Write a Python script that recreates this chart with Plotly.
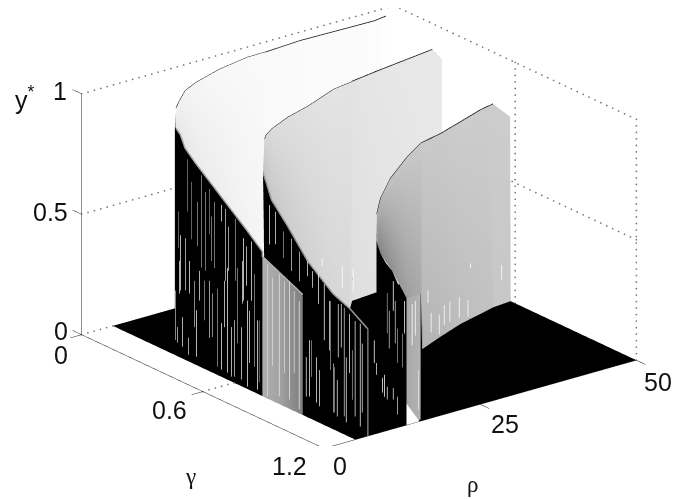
import numpy as np
import plotly.graph_objects as go

# axis ticks
gamma_ticks = [0, 0.6, 1.2]
rho_ticks = [0, 25, 50]
y_ticks = [0, 0.5, 1]

# floor of the surface, everything here is y* = 0
floor_rho = [5, 50]
floor_gamma = [0, 1.2]

# first sheet: jump wall (gamma, rho, y*)
wall1_gamma = [0, 0.1, 0.22, 0.235, 0.28, 0.35, 0.5, 0.65, 0.74]
wall1_rho = [15, 11.7, 8, 8.2, 7.5, 6.9, 5.8, 5.3, 5]
wall1_top = [0.81, 0.815, 0.885, 0.863, 0.83, 0.80, 0.74, 0.655, 0.6]
# cut of the first sheet at rho = 5
cut_gamma = [0.74, 0.79, 0.84, 0.89, 0.94]
cut_rho = [5, 5, 5, 5, 5]
cut_top = [0.58, 0.56, 0.54, 0.52, 0.5]
cut_shade = [0.68, 0.66, 0.62, 0.55, 0.5]
# first sheet, upper edge and lower edge
sheet1_rho_up = [15.1, 15.7, 16.6, 18.3, 22, 26.5, 29.1, 29.6, 35, 46.8, 48.7]
sheet1_gamma_up = [0, 0, 0, 0, 0, 0, 0, 0, 0, 0, 0]
sheet1_y_up = [0.83, 0.858, 0.892, 0.913, 0.94, 0.957, 0.958, 0.958, 0.965, 0.96, 0.966]
sheet1_rho_lo = [8, 8.2, 7.5, 6.9, 5.8, 5.3, 5, 28, 33.4, 45, 47.7]
sheet1_gamma_lo = [0.22, 0.235, 0.28, 0.35, 0.5, 0.65, 0.74, 0.05, 0.05, 0.03, 0.03]
sheet1_y_lo = [0.885, 0.863, 0.83, 0.80, 0.74, 0.655, 0.6, 0, 0, 0, 0]
sheet1_shade_up = [0.95, 0.95, 0.955, 0.96, 0.97, 0.975, 0.975, 0.975, 0.98, 0.985, 0.995]
sheet1_shade_lo = [0.9, 0.9, 0.91, 0.92, 0.93, 0.95, 0.96, 0.975, 0.98, 0.985, 0.995]

# second sheet
wall2_gamma = [0.19, 0.30, 0.42, 0.48, 0.55, 0.70, 0.85, 1.0, 1.1, 1.2]
wall2_rho = [22.8, 19.2, 15.4, 14, 12.6, 10.3, 8.7, 7.9, 7.4, 7]
wall2_top = [0.696, 0.704, 0.729, 0.721, 0.684, 0.653, 0.576, 0.506, 0.486, 0.445]
sheet2_rho_up = [22.8, 23.4, 24.3, 26.9, 30.1, 34.2, 37, 37.2, 41.1, 50, 50]
sheet2_gamma_up = [0.19, 0.19, 0.19, 0.19, 0.19, 0.19, 0.19, 0.19, 0.19, 0.19, 0.237]
sheet2_y_up = [0.696, 0.733, 0.751, 0.781, 0.803, 0.843, 0.852, 0.855, 0.868, 0.893, 0.871]
sheet2_rho_lo = [15.4, 14, 12.6, 10.3, 8.7, 7.9, 7.4, 34.2, 38.5, 48.3, 50]
sheet2_gamma_lo = [0.42, 0.48, 0.55, 0.70, 0.85, 1.0, 1.1, 0.281, 0.27, 0.242, 0.237]
sheet2_y_lo = [0.729, 0.721, 0.684, 0.653, 0.576, 0.506, 0.486, 0, 0, 0, 0]
sheet2_shade_up = [0.82, 0.84, 0.86, 0.87, 0.88, 0.89, 0.89, 0.89, 0.9, 0.91, 0.91]
sheet2_shade_lo = [0.76, 0.77, 0.78, 0.8, 0.82, 0.84, 0.84, 0.87, 0.88, 0.9, 0.91]

# third sheet
wall3_gamma = [0.49, 0.6, 0.7, 0.8, 0.9, 1.0, 1.1, 1.2]
wall3_rho = [31.4, 27.8, 24.7, 22, 19.6, 17.4, 15.2, 13.2]
wall3_top = [0.44, 0.43, 0.471, 0.489, 0.508, 0.53, 0.523, 0.528]
sheet3_rho_up = [31.4, 32, 33.6, 36.3, 38.55, 38.7, 41.6, 44.8, 48, 50, 50]
sheet3_gamma_up = [0.49, 0.49, 0.49, 0.49, 0.49, 0.49, 0.49, 0.49, 0.49, 0.49, 0.575]
sheet3_y_up = [0.464, 0.525, 0.596, 0.666, 0.708, 0.708, 0.723, 0.749, 0.775, 0.785, 0.764]
sheet3_rho_lo = [24.7, 22, 17.4, 13.2, 15.5, 30.9, 35.3, 40, 47, 47, 50]
sheet3_gamma_lo = [0.7, 0.8, 1.0, 1.2, 1.2, 0.73, 0.683, 0.636, 0.586, 0.586, 0.578]
sheet3_y_lo = [0.471, 0.489, 0.53, 0.528, 0.53, 0, 0, 0, 0, 0, 0]
sheet3_shade_up = [0.68, 0.72, 0.76, 0.78, 0.79, 0.79, 0.79, 0.8, 0.8, 0.8, 0.8]
sheet3_shade_lo = [0.52, 0.52, 0.57, 0.62, 0.66, 0.7, 0.72, 0.74, 0.76, 0.78, 0.78]
# grey end piece of the third sheet at gamma = 1.2, and its white foot
end3_rho = [13.5, 15.8]
end3_top = [0.528, 0.53]
foot_rho = [13.2, 15.3]
foot_top = [0.09, 0.0]

# light streaks on the walls: gamma, low, high, shade
streak1_gamma = [0.373, 0.393, 0.328, 0.338, 0.363, 0.383, 0.442, 0.462, 0.481, 0.506, 0.541, 0.56, 0.61, 0.649, 0.689,
                 0.323, 0.348, 0.378, 0.417, 0.457, 0.481, 0.521, 0.541, 0.57, 0.59, 0.62, 0.64, 0.669, 0.704, 0.719,
                 0.314, 0.768, 0.793, 0.827, 0.852, 0.877, 0.901, 0.926,
                 0.333, 0.407, 0.432, 0.496, 0.556, 0.605, 0.644, 0.679, 0.728, 0.422, 0.491, 0.575, 0.664]
streak1_low = [0.622, 0.515, 0.453, 0.281, 0.291, 0.286, 0.416, 0.411, 0.57, 0.44, 0.647, 0.408, 0.428, 0.361, 0.376,
               0.058, 0.051, 0.03, 0.037, 0.204, 0.14, 0.036, 0.032, 0.031, 0.022, 0.173, 0.03, 0.012, 0.108, 0.019,
               0.066, 0.01, 0.146, 0.033, 0.141, 0.04, 0.16, 0.018,
               0.266, 0.156, 0.276, 0.15, 0.214, 0.028, 0.347, 0.114, 0.052, 0.498, 0.463, 0.455, 0.428]
streak1_high = [0.839, 0.753, 0.605, 0.51, 0.508, 0.421, 0.8, 0.739, 0.759, 0.715, 0.716, 0.707, 0.686, 0.62, 0.622,
                0.123, 0.174, 0.1, 0.23, 0.368, 0.377, 0.36, 0.225, 0.466, 0.228, 0.485, 0.247, 0.369, 0.493, 0.306,
                0.271, 0.56, 0.511, 0.541, 0.522, 0.531, 0.5, 0.469,
                0.402, 0.348, 0.399, 0.33, 0.407, 0.262, 0.523, 0.331, 0.31, 0.682, 0.648, 0.639, 0.592]
streak1_shade = [0.5, 0.5, 0.5, 0.95, 0.8, 0.95, 0.6, 0.6, 0.5, 0.6, 0.9, 0.8, 0.6, 0.95, 0.95,
                 0.8, 0.9, 0.8, 0.95, 0.6, 0.8, 0.6, 0.95, 0.95, 0.9, 0.6, 0.9, 0.95, 0.6, 0.95,
                 0.7, 0.85, 0.85, 0.9, 0.85, 0.9, 0.85, 0.9,
                 0.9, 0.7, 0.9, 0.7, 0.9, 0.8, 0.9, 0.9, 0.55, 0.6, 0.6, 0.8, 0.9]

streak2_gamma = [0.7165, 0.746, 0.786, 0.825, 0.865, 0.904, 0.929, 0.959, 0.988, 1.018, 1.057, 1.087, 1.112, 1.141, 1.166,
                 0.914, 0.949, 0.964, 1.033, 1.097, 1.052, 0.978, 1.077, 1.131,
                 0.899, 0.924, 1.013, 1.038, 1.072, 1.127, 1.176]
streak2_low = [0.606, 0.618, 0.576, 0.538, 0.512, 0.548, 0.51, 0.455, 0.315, 0.203, 0.272, 0.038, 0.228, 0.059, 0.027,
               0.052, 0.041, 0.031, 0.033, 0.017, 0.024, 0.618, 0.566, 0.575,
               0.046, 0.138, 0.283, 0.035, 0.318, 0.123, 0.089]
streak2_high = [0.77, 0.753, 0.687, 0.673, 0.635, 0.61, 0.579, 0.578, 0.548, 0.49, 0.493, 0.489, 0.473, 0.456, 0.454,
                0.286, 0.229, 0.182, 0.237, 0.287, 0.175, 0.651, 0.657, 0.67,
                0.21, 0.29, 0.488, 0.223, 0.499, 0.328, 0.375]
streak2_shade = [0.95, 0.9, 0.6, 0.8, 0.8, 0.9, 0.9, 0.95, 0.95, 0.6, 0.9, 0.8, 0.95, 0.9, 0.95,
                 0.95, 0.95, 0.9, 0.7, 0.95, 0.9, 1, 1, 1,
                 0.9, 0.6, 0.9, 0.6, 0.9, 0.6, 0.9]

streak3_gamma = [1.111, 1.121, 1.141, 1.151, 1.161, 1.186, 1.196, 1.047, 1.057, 1.087, 1.097, 1.111, 1.141, 1.161]
streak3_low = [0.347, 0.289, 0.453, 0.322, 0.244, 0.236, 0.38, 0.199, 0.154, 0.092, 0.079, 0.073, 0.084, 0.03]
streak3_high = [0.515, 0.445, 0.576, 0.498, 0.387, 0.376, 0.515, 0.293, 0.203, 0.154, 0.17, 0.126, 0.133, 0.104]
streak3_shade = [0.6, 0.8, 1, 0.8, 0.6, 0.6, 1, 1, 0.9, 1, 1, 0.9, 0.9, 0.8]

# streaks on the grey parts of the third sheet
streak4_rho = [14.1, 14.6, 15.1, 31.2, 31.7, 33, 33.8, 34.7, 36.2, 37.6, 38, 43]
streak4_gamma = [1.2, 1.2, 1.2, 0.75, 0.75, 0.75, 0.75, 0.75, 0.75, 0.75, 0.75, 0.75]
streak4_low = [0.325, 0.362, 0.051, 0.198, 0.072, 0.054, 0.089, 0.095, 0.1, 0.094, 0.293, 0.207]
streak4_high = [0.497, 0.505, 0.215, 0.251, 0.154, 0.136, 0.171, 0.177, 0.186, 0.164, 0.313, 0.269]
streak4_shade = [1, 1, 0.9, 1, 1, 1, 1, 1, 1, 1, 1, 1]

GRAY = [[0, "black"], [1, "white"]]
FLAT = dict(ambient=1, diffuse=0, specular=0, roughness=1, fresnel=0)


def surf(gam, rho, y, shade):
    return go.Surface(x=gam, y=rho, z=y, surfacecolor=shade, colorscale=GRAY, cmin=0, cmax=1,
                      showscale=False, lighting=FLAT, hoverinfo="skip",
                      contours=dict(x=dict(highlight=False), y=dict(highlight=False), z=dict(highlight=False)))


def wall(gam, rho, top, shade=None):
    low = [0] * len(gam)
    if shade is None:
        shade = [0] * len(gam)
    return surf([gam, gam], [rho, rho], [low, top], [shade, shade])


def sheet(gu, ru, yu, gl, rl, yl, su, sl):
    return surf([gu, gl], [ru, rl], [yu, yl], [su, sl])


def line(gam, rho, y, color="black", width=1):
    return go.Scatter3d(x=gam, y=rho, z=y, mode="lines", hoverinfo="skip", showlegend=False,
                        line=dict(color=color, width=width))


# MATLAB style grid line, a row of small dots
def dotted(gam, rho, y, n):
    return go.Scatter3d(x=np.linspace(gam[0], gam[1], n), y=np.linspace(rho[0], rho[1], n),
                        z=np.linspace(y[0], y[1], n), mode="markers", hoverinfo="skip", showlegend=False,
                        marker=dict(color="#777777", size=1, line=dict(width=0)))


def streaks(gam, rho, low, high, shade):
    xs, ys, zs, cs = [], [], [], []
    for g, r, a, b, s in zip(gam, rho, low, high, shade):
        xs += [g, g, None]
        ys += [r, r, None]
        zs += [a, b, None]
        cs += [s, s, s]
    return go.Scatter3d(x=xs, y=ys, z=zs, mode="lines", hoverinfo="skip", showlegend=False,
                        line=dict(color=cs, colorscale=GRAY, cmin=0, cmax=1, width=1.5))


fig = go.Figure()

# surface
fig.add_trace(surf(floor_gamma, floor_rho, [[0, 0], [0, 0]], [[0, 0], [0, 0]]))
fig.add_trace(sheet(sheet1_gamma_up, sheet1_rho_up, sheet1_y_up, sheet1_gamma_lo, sheet1_rho_lo, sheet1_y_lo,
                    sheet1_shade_up, sheet1_shade_lo))
fig.add_trace(wall(wall1_gamma, wall1_rho, wall1_top))
fig.add_trace(wall(cut_gamma, cut_rho, cut_top, cut_shade))
fig.add_trace(sheet(sheet2_gamma_up, sheet2_rho_up, sheet2_y_up, sheet2_gamma_lo, sheet2_rho_lo, sheet2_y_lo,
                    sheet2_shade_up, sheet2_shade_lo))
fig.add_trace(wall(wall2_gamma, wall2_rho, wall2_top))
fig.add_trace(sheet(sheet3_gamma_up, sheet3_rho_up, sheet3_y_up, sheet3_gamma_lo, sheet3_rho_lo, sheet3_y_lo,
                    sheet3_shade_up, sheet3_shade_lo))
fig.add_trace(wall(wall3_gamma, wall3_rho, wall3_top))
fig.add_trace(wall([1.19, 1.19], end3_rho, end3_top, [0.66, 0.7]))
fig.add_trace(wall([1.2, 1.2], foot_rho, foot_top, [1, 1]))

# streaks
fig.add_trace(streaks(streak1_gamma, [4.9] * len(streak1_gamma), streak1_low, streak1_high, streak1_shade))
fig.add_trace(streaks(streak2_gamma, [6.9] * len(streak2_gamma), streak2_low, streak2_high, streak2_shade))
fig.add_trace(streaks(streak3_gamma, [13] * len(streak3_gamma), streak3_low, streak3_high, streak3_shade))
fig.add_trace(streaks(streak4_gamma, streak4_rho, streak4_low, streak4_high, streak4_shade))

# edges of the sheets
fig.add_trace(line(sheet1_gamma_up, sheet1_rho_up, sheet1_y_up, width=1.5))
fig.add_trace(line(sheet2_gamma_up[:10], sheet2_rho_up[:10], sheet2_y_up[:10], width=1.5))
fig.add_trace(line(sheet3_gamma_up[:10], sheet3_rho_up[:10], sheet3_y_up[:10], width=1.5))
fig.add_trace(line(wall1_gamma[2:] + cut_gamma, wall1_rho[2:] + cut_rho, wall1_top[2:] + cut_top, color="#b4b4b4", width=3))
fig.add_trace(line(wall2_gamma[2:], wall2_rho[2:], wall2_top[2:], color="#a8a8a8", width=3))
fig.add_trace(line([1.2, 1.2], [7, 7], [0, 0.445], color="#8c8c8c", width=3))

# grid, dotted on the back walls
for v in y_ticks[1:]:
    fig.add_trace(dotted([0, 0], rho_ticks[::2], [v, v], 50))
    fig.add_trace(dotted([0, 1.2], [50, 50], [v, v], 42))
for g in gamma_ticks[1:]:
    fig.add_trace(dotted([g, g], [50, 50], [0, 1], 38))
for g in gamma_ticks[:2]:
    fig.add_trace(dotted([g, g], [0, 5], [0, 0], 6))

# axes and tick marks
fig.add_trace(line([0, 0], [0, 0], [0, 1], color="#222222"))
fig.add_trace(line([0, 1.2], [0, 0], [0, 0], color="#222222"))
fig.add_trace(line([1.2, 1.2], [0, 50], [0, 0], color="#222222"))
for v in y_ticks:
    fig.add_trace(line([0, -0.045], [0, 0], [v, v], color="#222222"))
for g in gamma_ticks:
    fig.add_trace(line([g, g], [0, -1.8], [0, 0], color="#222222"))
for r in rho_ticks:
    fig.add_trace(line([1.2, 1.245], [r, r], [0, 0], color="#222222"))

TICK = dict(family="Liberation Sans", size=25, color="#111111")
SERIF = dict(family="Liberation Serif", size=23, color="#111111")


def note(g, r, y, text, dx, dy, font=TICK):
    return dict(x=g, y=r, z=y, text=text, showarrow=False, xshift=dx, yshift=dy, font=font,
                xanchor="center", yanchor="middle")


labels = [
    note(0, 0, 1, "1", -22, 3),
    note(0, 0, 0.5, "0.5", -31, 2),
    note(0, 0, 0, "0", -21, 4),
    note(0, 0, 0, "0", -21, -20),
    note(0.6, 0, 0, "0.6", -33, -18),
    note(1.2, 0, 0, "1.2", -34, -18),
    note(1.2, 0, 0, "0", 16, -18),
    note(1.2, 25, 0, "25", 25, -20),
    note(1.2, 50, 0, "50", 22, -22),
    note(0, 0, 1, "y<sup>*</sup>", -57, -4),
    note(0.9, 0, 0, "γ", -73, -57, SERIF),
    note(1.2, 25, 0, "ρ", -8, -80, SERIF),
]

hidden = dict(visible=False, showgrid=False, zeroline=False, showline=False, showticklabels=False,
              showspikes=False, showbackground=False, title="")

# page margin of 8 px takes the rest of the 680x499 window
fig.update_layout(
    width=672, height=491, margin=dict(l=0, r=0, t=0, b=0),
    paper_bgcolor="white", showlegend=False,
    scene=dict(
        domain=dict(x=[0.0446, 1], y=[0.108, 1]),
        xaxis=dict(hidden, range=[-0.1, 1.3]),
        yaxis=dict(hidden, range=[-4.167, 54.167]),
        zaxis=dict(hidden, range=[0, 1]),
        aspectmode="manual",
        aspectratio=dict(x=2.106, y=2.106, z=1.181),
        camera=dict(projection=dict(type="orthographic"),
                    up=dict(x=0, y=0, z=1), center=dict(x=0, y=0, z=0),
                    eye=dict(x=0.7355 * 2, y=-0.5707 * 2, z=0.364 * 2)),
        annotations=labels,
    ),
)

fig.write_html("out.html")
